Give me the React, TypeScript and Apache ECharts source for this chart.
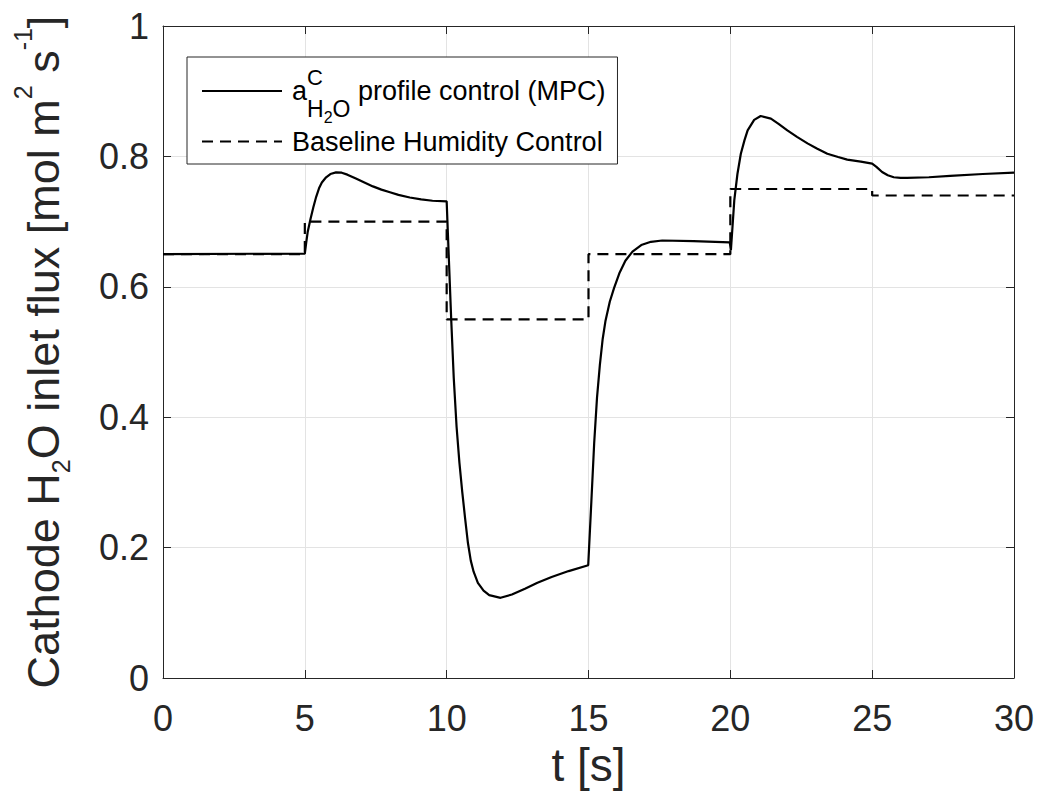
import React, { useEffect, useRef } from 'react';
import * as echarts from 'echarts';

// MPC profile control (solid line)
const mpcTime = [
  0, 5.0, 5.05, 5.1, 5.2, 5.3, 5.4, 5.5, 5.6, 5.75, 5.9, 6.1, 6.3, 6.5, 6.8, 7.1, 7.4, 7.7, 8.0, 8.3, 8.7, 9.1, 9.5, 10.0,
  10.08, 10.16, 10.25, 10.35, 10.45, 10.55, 10.65, 10.75, 10.85, 10.95, 11.1, 11.3, 11.5, 11.9, 12.3, 12.76, 13.2, 13.7, 14.3, 14.99,
  15.1, 15.2, 15.3, 15.4, 15.5, 15.6, 15.75, 15.9, 16.1, 16.3, 16.55, 16.86, 17.2, 17.6, 18.7, 19.98,
  20.02, 20.14, 20.25, 20.37, 20.5, 20.61, 20.84, 21.07, 21.43, 21.7, 22.01, 22.35, 22.72, 23.05, 23.42, 23.8, 24.12, 24.6, 25.0,
  25.15, 25.35, 25.55, 25.76, 26.0, 26.23, 27.0, 27.75, 28.9, 30,
];
const mpcValue = [
  0.65, 0.651, 0.668, 0.684, 0.704, 0.722, 0.738, 0.751, 0.76, 0.768, 0.773, 0.7755, 0.775, 0.772, 0.766, 0.76, 0.754, 0.749, 0.745, 0.741, 0.737, 0.734, 0.732, 0.731,
  0.64, 0.55, 0.46, 0.385, 0.33, 0.285, 0.245, 0.207, 0.18, 0.163, 0.146, 0.134, 0.127, 0.123, 0.128, 0.137, 0.146, 0.155, 0.164, 0.173,
  0.27, 0.36, 0.43, 0.48, 0.52, 0.548, 0.577, 0.598, 0.622, 0.64, 0.654, 0.664, 0.669, 0.671, 0.670, 0.668,
  0.656, 0.733, 0.773, 0.804, 0.825, 0.84, 0.856, 0.862, 0.858, 0.85, 0.84, 0.83, 0.82, 0.812, 0.804, 0.799, 0.795, 0.792, 0.789,
  0.784, 0.776, 0.771, 0.768, 0.767, 0.767, 0.768, 0.770, 0.773, 0.775,
];

// Baseline humidity control (dashed step line)
const baselineTime = [0, 5, 10, 15, 20, 25, 30];
const baselineValue = [0.65, 0.7, 0.55, 0.65, 0.75, 0.74, 0.74];

const xMin = 0;
const xMax = 30;
const xInterval = 5;
const yMin = 0;
const yMax = 1;
const yInterval = 0.2;

const MPC_NAME = 'aCH2O profile control (MPC)';
const BASE_NAME = 'Baseline Humidity Control';

export default function App() {
  const ref = useRef<HTMLDivElement>(null);

  useEffect(() => {
    if (!ref.current) return;
    const chart = echarts.init(ref.current, undefined, { renderer: 'svg' });
    const font = '"Liberation Sans", Arial, Helvetica, sans-serif';
    const axisColor = '#262626';
    const gridColor = '#e3e3e3';

    const boxAxis = {
      type: 'value' as const,
      axisLine: { show: true, onZero: false, lineStyle: { color: axisColor, width: 1 } },
      axisTick: { show: true, inside: true, length: 8, lineStyle: { color: axisColor, width: 1 } },
      axisLabel: { show: false },
      splitLine: { show: false },
    };

    chart.setOption({
      animation: false,
      backgroundColor: '#ffffff',
      textStyle: { fontFamily: font },
      grid: { left: 160, right: 28, top: 26, bottom: 125, containLabel: false },
      legend: {
        orient: 'vertical',
        left: 187,
        top: 57,
        data: [MPC_NAME, BASE_NAME],
        itemWidth: 80,
        itemHeight: 20,
        itemGap: 3,
        padding: [4, 12, 9, 14],
        borderColor: axisColor,
        borderWidth: 1,
        borderRadius: 0,
        backgroundColor: '#ffffff',
        selectedMode: false,
        itemStyle: { opacity: 0, borderWidth: 0 },
        formatter: (name: string) =>
          name === MPC_NAME
            ? '{m|a}{sup|C}{sub|H}{ss|2}{sub|O}{m| profile control (MPC)}'
            : name,
        textStyle: {
          fontSize: 27,
          color: '#000000',
          fontFamily: font,
          padding: [0, 0, 0, 5],
          rich: {
            m: { fontSize: 27, lineHeight: 60, verticalAlign: 'middle', color: '#000000', fontFamily: font },
            sup: { fontSize: 22, height: 32, lineHeight: 32, verticalAlign: 'top', width: 0, color: '#000000', fontFamily: font },
            sub: { fontSize: 23, height: 25, lineHeight: 25, verticalAlign: 'bottom', color: '#000000', fontFamily: font },
            ss: { fontSize: 16, height: 8, lineHeight: 8, verticalAlign: 'bottom', color: '#000000', fontFamily: font },
          },
        },
      },
      xAxis: [
        {
          type: 'value',
          min: xMin,
          max: xMax,
          interval: xInterval,
          position: 'bottom',
          axisLine: { show: true, onZero: false, lineStyle: { color: axisColor, width: 1 } },
          axisTick: { show: true, inside: true, length: 8, lineStyle: { color: axisColor, width: 1 } },
          axisLabel: { fontSize: 36, color: axisColor, margin: 22, fontFamily: font },
          splitLine: { show: true, lineStyle: { color: gridColor, width: 1 } },
          name: 't [s]',
          nameLocation: 'middle',
          nameGap: 64,
          nameTextStyle: { fontSize: 46, color: axisColor, fontFamily: font },
        },
        { ...boxAxis, min: xMin, max: xMax, interval: xInterval, position: 'top' },
      ],
      yAxis: [
        {
          type: 'value',
          min: yMin,
          max: yMax,
          interval: yInterval,
          position: 'left',
          axisLine: { show: true, onZero: false, lineStyle: { color: axisColor, width: 1 } },
          axisTick: { show: true, inside: true, length: 8, lineStyle: { color: axisColor, width: 1 } },
          axisLabel: { fontSize: 36, color: axisColor, margin: 14, fontFamily: font },
          splitLine: { show: true, lineStyle: { color: gridColor, width: 1 } },
          name: '{m|Cathode H}{sub|2}{m|O inlet flux [mol m}{sup|2}{m| s}{sup|-1}{m|]}',
          nameLocation: 'middle',
          nameRotate: 90,
          nameGap: 85,
          nameTextStyle: {
            fontSize: 45,
            color: axisColor,
            fontFamily: font,
            rich: {
              m: { fontSize: 45, lineHeight: 70, verticalAlign: 'middle', color: axisColor, fontFamily: font },
              sup: { fontSize: 25, height: 30, lineHeight: 30, verticalAlign: 'top', color: axisColor, fontFamily: font },
              sub: { fontSize: 25, height: 34, lineHeight: 34, verticalAlign: 'bottom', color: axisColor, fontFamily: font },
            },
          },
        },
        { ...boxAxis, min: yMin, max: yMax, interval: yInterval, position: 'right' },
      ],
      series: [
        {
          name: BASE_NAME,
          type: 'line',
          xAxisIndex: 0,
          yAxisIndex: 0,
          step: 'end',
          symbol: 'none',
          data: baselineTime.map((t, i) => [t, baselineValue[i]]),
          lineStyle: { color: '#000000', width: 2.2, type: [11, 7] },
          itemStyle: { color: '#000000' },
          z: 2,
        },
        {
          name: MPC_NAME,
          type: 'line',
          xAxisIndex: 0,
          yAxisIndex: 0,
          symbol: 'none',
          data: mpcTime.map((t, i) => [t, mpcValue[i]]),
          lineStyle: { color: '#000000', width: 2.2, type: 'solid' },
          itemStyle: { color: '#000000' },
          z: 3,
        },
      ],
    });

    return () => chart.dispose();
  }, []);

  return (
    <div
      ref={ref}
      style={{ position: 'fixed', left: 0, top: 0, width: 1042, height: 803, background: '#fff' }}
    />
  );
}
